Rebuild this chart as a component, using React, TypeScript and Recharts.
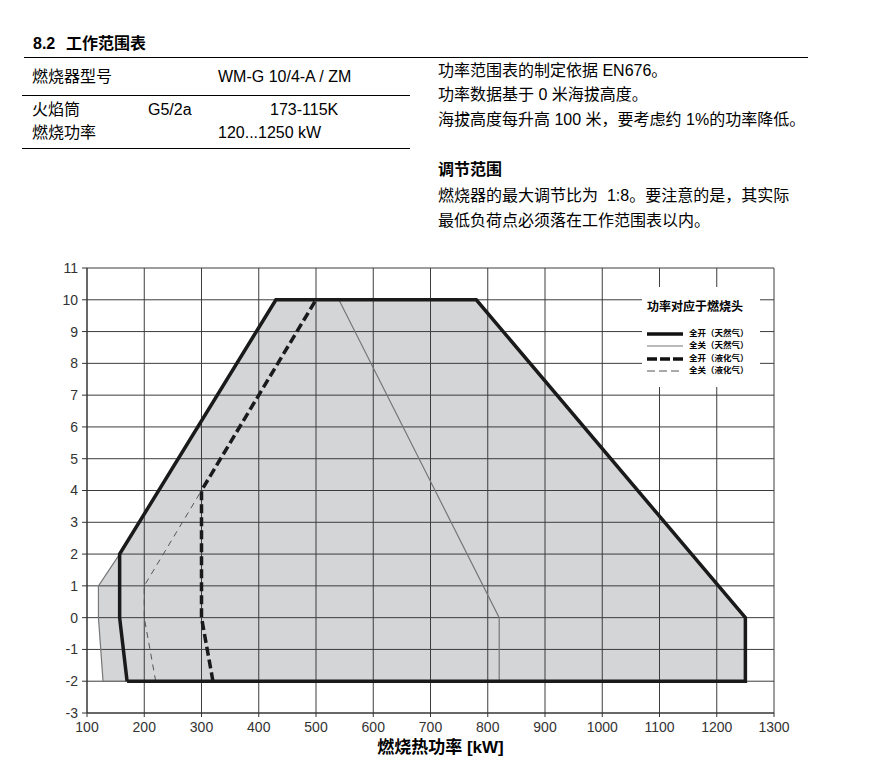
import React from 'react';
import { ComposedChart, Line, Area, XAxis, YAxis, CartesianGrid } from 'recharts';

const FONT = '"Liberation Sans", Arial, "Noto Sans CJK SC", sans-serif';

// axis ticks
const xTicks = [100, 200, 300, 400, 500, 600, 700, 800, 900, 1000, 1100, 1200, 1300];
const yTicks = [-3, -2, -1, 0, 1, 2, 3, 4, 5, 6, 7, 8, 9, 10, 11];

// working envelope (grey fill)
const envelopeX = [120, 128, 157, 430, 780, 1250];
const envelopeLow = [0, -2, -2, -2, -2, -2];
const envelopeHigh = [1, 1.2, 2, 10, 10, 0];

// 全开（天然气）
const openGasX = [170, 157, 157, 430, 780, 1250, 1250, 170];
const openGasY = [-2, 0, 2, 10, 10, 0, -2, -2];

// 全关（天然气）
const closedGasLeftX = [128, 120, 120, 157];
const closedGasLeftY = [-2, 0, 1, 2];
const closedGasRightX = [540, 820, 820];
const closedGasRightY = [10, 0, -2];

// 全开（液化气）
const openLpgX = [320, 300, 300, 500];
const openLpgY = [-2, 0, 4, 10];

// 全关（液化气）
const closedLpgX = [220, 200, 200, 300];
const closedLpgY = [-2, 0, 1, 4];

const legendLabels = ['全开（天然气）', '全关（天然气）', '全开（液化气）', '全关（液化气）'];

const zip = (xs: number[], ys: number[]) => xs.map((x, i) => ({ x, y: ys[i] }));
const envelopeData = envelopeX.map((x, i) => ({ x, range: [envelopeLow[i], envelopeHigh[i]] }));

const T = ({ left, cy, size = 16, bold = false, children }: any) => (
  <div
    style={{
      position: 'absolute',
      left,
      top: cy - size / 2 - 1,
      fontSize: size,
      lineHeight: `${size + 2}px`,
      fontWeight: bold ? 700 : 400,
      fontFamily: FONT,
      whiteSpace: 'nowrap',
      color: '#000',
    }}
  >
    {children}
  </div>
);

const HLine = ({ x1, x2, y }: any) => (
  <div style={{ position: 'absolute', left: x1, top: y, width: x2 - x1, height: 1, background: '#000' }} />
);

const legendStyles = [
  { w: 3.5, dash: undefined, c: '#111' },
  { w: 1.2, dash: undefined, c: '#777' },
  { w: 3.5, dash: '10 3', c: '#111' },
  { w: 1, dash: '8 4', c: '#555' },
];

export default function App() {
  return (
    <div style={{ position: 'absolute', left: 0, top: 0, width: 878, height: 762, background: '#fff', fontFamily: FONT }}>
      <T left={33} cy={44} bold>8.2</T>
      <T left={66} cy={44} bold>工作范围表</T>
      <HLine x1={24} x2={808} y={57} />
      <T left={32} cy={77}>燃烧器型号</T>
      <T left={218} cy={77}>WM-G 10/4-A / ZM</T>
      <HLine x1={22} x2={410} y={95} />
      <T left={32} cy={110}>火焰筒</T>
      <T left={148} cy={110}>G5/2a</T>
      <T left={270} cy={110}>173-115K</T>
      <T left={32} cy={133}>燃烧功率</T>
      <T left={218} cy={133}>120...1250 kW</T>
      <HLine x1={22} x2={410} y={148} />

      <T left={438} cy={71}>功率范围表的制定依据 EN676。</T>
      <T left={438} cy={95}>功率数据基于 0 米海拔高度。</T>
      <T left={438} cy={120}>海拔高度每升高 100 米，要考虑约 1%的功率降低。</T>
      <T left={438} cy={170} bold>调节范围</T>
      <T left={438} cy={196}>燃烧器的最大调节比为&nbsp;&nbsp;1:8。要注意的是，其实际</T>
      <T left={438} cy={221}>最低负荷点必须落在工作范围表以内。</T>

      <div style={{ position: 'absolute', left: 0, top: 0 }}>
        <ComposedChart width={878} height={762} margin={{ top: 268, right: 104, bottom: 0, left: 47 }}>
          <XAxis
            type="number"
            dataKey="x"
            domain={[100, 1300]}
            ticks={xTicks}
            interval={0}
            allowDataOverflow
            height={49}
            tickSize={4}
            tickMargin={5}
            stroke="#333"
            tick={{ fill: '#333', fontSize: 14, fontFamily: FONT }}
            label={{
              value: '燃烧热功率 [kW]',
              position: 'insideBottom',
              offset: 9,
              dx: 10,
              style: { fill: '#000', fontSize: 17, fontWeight: 700, fontFamily: FONT },
            }}
          />
          <YAxis
            type="number"
            domain={[-3, 11]}
            ticks={yTicks}
            interval={0}
            allowDataOverflow
            width={40}
            tickSize={5}
            tickMargin={4}
            stroke="#333"
            tick={{ fill: '#333', fontSize: 14, fontFamily: FONT }}
          />
          <Area
            data={envelopeData}
            dataKey="range"
            type="linear"
            stroke="none"
            fill="#d4d5d7"
            fillOpacity={1}
            isAnimationActive={false}
            activeDot={false}
          />
          <CartesianGrid stroke="#3c3c3c" strokeWidth={1} {...({ zIndex: 150 } as any)} />
          <Line data={zip(closedGasLeftX, closedGasLeftY)} dataKey="y" type="linear" stroke="#777" strokeWidth={1.2} dot={false} activeDot={false} isAnimationActive={false} />
          <Line data={zip(closedGasRightX, closedGasRightY)} dataKey="y" type="linear" stroke="#777" strokeWidth={1.2} dot={false} activeDot={false} isAnimationActive={false} />
          <Line data={zip(closedLpgX, closedLpgY)} dataKey="y" type="linear" stroke="#555" strokeWidth={1} strokeDasharray="6 5" dot={false} activeDot={false} isAnimationActive={false} />
          <Line data={zip(openLpgX, openLpgY)} dataKey="y" type="linear" stroke="#1a1a1a" strokeWidth={3.5} strokeDasharray="9 4" dot={false} activeDot={false} isAnimationActive={false} />
          <Line data={zip(openGasX, openGasY)} dataKey="y" type="linear" stroke="#1a1a1a" strokeWidth={3.5} strokeLinejoin="miter" dot={false} activeDot={false} isAnimationActive={false} />
        </ComposedChart>
      </div>

      <div style={{ position: 'absolute', left: 642, top: 287, width: 118, height: 100, background: '#fff' }}>
        <div style={{ position: 'absolute', left: 5, top: 13, fontSize: 12, lineHeight: '14px', fontWeight: 700, whiteSpace: 'nowrap' }}>
          功率对应于燃烧头
        </div>
        {legendLabels.map((lab, i) => {
          const cy = [47, 59, 72, 84][i];
          const s = legendStyles[i];
          return (
            <React.Fragment key={lab}>
              <svg style={{ position: 'absolute', left: 5, top: cy - 3 }} width={37} height={6}>
                <line x1={0} y1={3} x2={36} y2={3} stroke={s.c} strokeWidth={s.w} strokeDasharray={s.dash} />
              </svg>
              <div style={{ position: 'absolute', left: 47, top: cy - 6, fontSize: 8.5, lineHeight: '11px', fontWeight: 700, whiteSpace: 'nowrap' }}>
                {lab}
              </div>
            </React.Fragment>
          );
        })}
      </div>
    </div>
  );
}
